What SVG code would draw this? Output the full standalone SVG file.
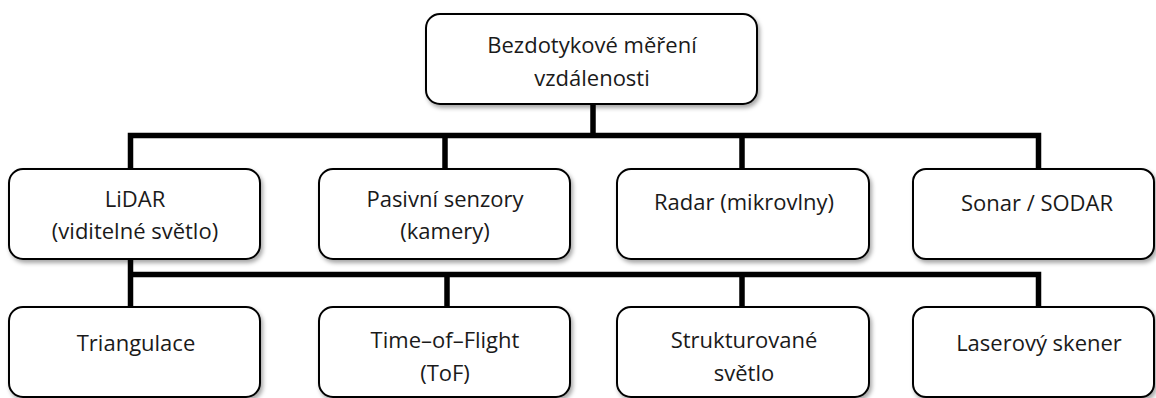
<svg xmlns="http://www.w3.org/2000/svg" width="1156" height="398" viewBox="0 0 1156 398">
  <defs>
    <filter id="sh" x="-10%" y="-10%" width="125%" height="140%">
      <feDropShadow dx="2" dy="3" stdDeviation="2" flood-color="#000" flood-opacity="0.35"/>
    </filter>
  </defs>
  <style>
    .box { fill: #ffffff; stroke: #000000; stroke-width: 2; filter: url(#sh); }
    .t { font-family: "Open Sans", "Noto Sans", sans-serif; font-size: 22px; fill: #1a1a1a; text-anchor: middle; }
    .c { fill: none; stroke: #000000; stroke-width: 5.5; stroke-linejoin: miter; stroke-linecap: butt; }
  </style>
  <rect width="1156" height="398" fill="#ffffff"/>
  <g id="connectors">
    <path class="c" d="M593 104 V135.5"/>
    <path class="c" d="M130.5 169 V135.5 H1038.5 V169"/>
    <path class="c" d="M445 135.5 V169"/>
    <path class="c" d="M742 135.5 V169"/>
    <path class="c" d="M130.5 259 V307"/>
    <path class="c" d="M130.5 274.5 H1038.5 V307"/>
    <path class="c" d="M447 274.5 V307"/>
    <path class="c" d="M742 274.5 V307"/>
  </g>
  <g id="root">
    <rect class="box" x="426" y="14" width="331" height="90" rx="14"/>
    <text class="t" x="592" y="53">Bezdotykové měření</text>
    <text class="t" x="592" y="86">vzdálenosti</text>
  </g>
  <g id="lidar">
    <rect class="box" x="9" y="169" width="251" height="90" rx="14"/>
    <text class="t" x="135" y="207">LiDAR</text>
    <text class="t" x="135" y="239">(viditelné světlo)</text>
  </g>
  <g id="pasivni">
    <rect class="box" x="319" y="169" width="251" height="90" rx="14"/>
    <text class="t" x="445" y="207">Pasivní senzory</text>
    <text class="t" x="445" y="239">(kamery)</text>
  </g>
  <g id="radar">
    <rect class="box" x="617" y="169" width="252" height="90" rx="14"/>
    <text class="t" x="744" y="210">Radar (mikrovlny)</text>
  </g>
  <g id="sonar">
    <rect class="box" x="913" y="169" width="241" height="90" rx="13"/>
    <text class="t" x="1037" y="211">Sonar / SODAR</text>
  </g>
  <g id="triangulace">
    <rect class="box" x="9" y="307" width="251" height="90" rx="14"/>
    <text class="t" x="136" y="351">Triangulace</text>
  </g>
  <g id="tof">
    <rect class="box" x="319" y="307" width="251" height="90" rx="14"/>
    <text class="t" x="445" y="348">Time–of–Flight</text>
    <text class="t" x="445" y="381">(ToF)</text>
  </g>
  <g id="strukturovane">
    <rect class="box" x="617" y="307" width="252" height="90" rx="14"/>
    <text class="t" x="744" y="348">Strukturované</text>
    <text class="t" x="744" y="381">světlo</text>
  </g>
  <g id="laser">
    <rect class="box" x="913" y="307" width="241" height="90" rx="13"/>
    <text class="t" x="1039" y="351">Laserový skener</text>
  </g>
</svg>
